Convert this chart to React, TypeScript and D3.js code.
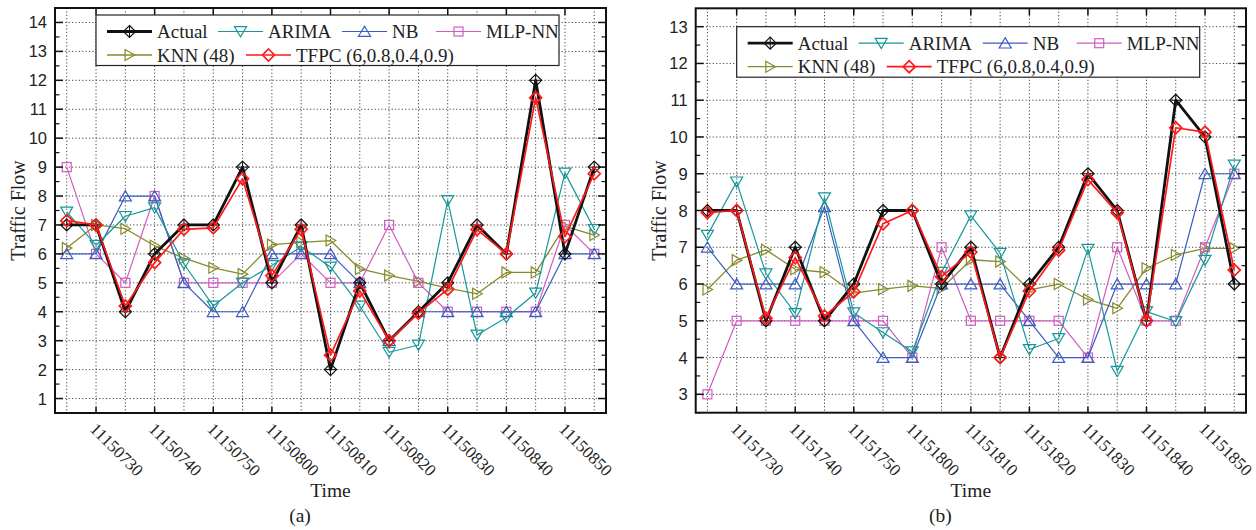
import React from "react";
import * as d3 from "d3";

// ---------- DATA ----------
const timesA = ["11150725","11150730","11150735","11150740","11150745","11150750","11150755","11150800","11150805","11150810","11150815","11150820","11150825","11150830","11150835","11150840","11150845","11150850","11150855"];
const timesB = ["11151725","11151730","11151735","11151740","11151745","11151750","11151755","11151800","11151805","11151810","11151815","11151820","11151825","11151830","11151835","11151840","11151845","11151850","11151855"];

const actualA = [7,7,4,6,7,7,9,5,7,2,5,3,4,5,7,6,12,6,9];
const arimaA = [7.45,6.3,7.3,7.6,5.65,4.2,5.0,5.6,6.25,5.55,4.2,2.6,2.85,7.85,3.2,3.8,4.65,8.8,6.85];
const nbA = [6,6,8,8,5,4,4,6,6,6,5,3,4,4,4,4,4,6,6];
const mlpA = [9,6,5,8,5,5,5,5,6,5,5,7,5,4,4,4,4,7,6];
const knnA = [6.2,7.0,6.87,6.28,5.85,5.52,5.3,6.32,6.4,6.46,5.48,5.25,5.05,4.82,4.62,5.36,5.36,6.95,6.65];
const tfpcA = [7.15,7.0,4.2,5.7,6.85,6.9,8.6,5.25,6.85,2.5,4.72,3.0,3.95,4.78,6.84,6.0,11.4,6.6,8.77];

const actualB = [8,8,5,7,5,6,8,8,6,7,4,6,7,9,8,5,11,10,6];
const arimaB = [7.33,8.78,6.28,5.2,8.35,5.22,4.68,4.16,6.32,7.86,6.84,4.22,4.52,6.95,3.63,5.25,4.98,6.65,9.24];
const nbB = [7,6,6,6,8.1,5,4,4,6,6,6,5,4,4,6,6,6,9,9];
const mlpB = [3,5,5,5,5,5,5,4,7,5,5,5,5,4,7,5,5,7,9];
const knnB = [5.85,6.65,6.93,6.4,6.32,5.75,5.86,5.95,5.88,6.66,6.61,5.84,6.0,5.58,5.34,6.43,6.79,6.97,6.97];
const tfpcB = [7.94,8.0,5.07,6.72,5.13,5.79,7.64,8.0,6.2,6.87,4.0,5.81,6.92,8.84,7.94,5.0,10.25,10.13,6.38];

const yTicksA = [1,2,3,4,5,6,7,8,9,10,11,12,13,14];
const yTicksB = [3,4,5,6,7,8,9,10,11,12,13];

const seriesNames = ["Actual","ARIMA","NB","MLP-NN","KNN (48)","TFPC (6,0.8,0.4,0.9)"];

const SERIF = "'Liberation Serif', 'Times New Roman', Times, serif";
const SANS = "'Liberation Sans', Arial, Helvetica, sans-serif";

// ---------- STYLE ----------
type Marker = "diamondCross" | "down" | "up" | "square" | "right" | "diamond";
const styles: { name: string; color: string; width: number; marker: Marker }[] = [
  { name: seriesNames[0], color: "#111111", width: 2.8, marker: "diamondCross" },
  { name: seriesNames[1], color: "#16979a", width: 1.2, marker: "down" },
  { name: seriesNames[2], color: "#3b5cc0", width: 1.2, marker: "up" },
  { name: seriesNames[3], color: "#d05cc2", width: 1.2, marker: "square" },
  { name: seriesNames[4], color: "#878a2a", width: 1.3, marker: "right" },
  { name: seriesNames[5], color: "#ff1a1a", width: 1.7, marker: "diamond" },
];

function MarkerShape({ type, x, y, color, sw }: { type: Marker; x: number; y: number; color: string; sw: number }) {
  const common = { fill: "none", stroke: color, strokeWidth: sw };
  if (type === "diamondCross") {
    const r = 6;
    return (
      <g>
        <path d={`M${x},${y - r}L${x + r},${y}L${x},${y + r}L${x - r},${y}Z`} {...common} />
        <path d={`M${x},${y - r}V${y + r}M${x - r},${y}H${x + r}`} {...common} strokeWidth={1} />
      </g>
    );
  }
  if (type === "diamond") {
    const r = 6;
    return <path d={`M${x},${y - r}L${x + r},${y}L${x},${y + r}L${x - r},${y}Z`} {...common} />;
  }
  if (type === "down") {
    const r = 6;
    return <path d={`M${x - r},${y - r * 0.8}L${x + r},${y - r * 0.8}L${x},${y + r * 0.9}Z`} {...common} />;
  }
  if (type === "up") {
    const r = 6;
    return <path d={`M${x - r},${y + r * 0.8}L${x + r},${y + r * 0.8}L${x},${y - r * 0.9}Z`} {...common} />;
  }
  if (type === "right") {
    const r = 5.5;
    return <path d={`M${x - r * 0.8},${y - r}L${x - r * 0.8},${y + r}L${x + r * 0.95},${y}Z`} {...common} />;
  }
  const s = 4.5;
  return <rect x={x - s} y={y - s} width={2 * s} height={2 * s} {...common} />;
}

type PanelProps = {
  left: number; right: number; top: number; bottom: number;
  yDomain: [number, number]; yTicks: number[]; times: string[];
  data: number[][]; legendTop: number; caption: string;
};

function Panel({ left, right, top, bottom, yDomain, yTicks, times, data, legendTop, caption }: PanelProps) {
  const n = times.length;
  const x = d3.scaleLinear().domain([-0.4, n - 1 + 0.4]).range([left, right]);
  const y = d3.scaleLinear().domain(yDomain).range([bottom, top]);
  const idx = d3.range(n);
  const minor = yTicks.map((t) => t + 0.5).filter((t) => t < yDomain[1]);
  minor.unshift(yTicks[0] - 0.5);
  const labeled = idx.filter((i) => times[i].endsWith("0"));
  const order = [4, 3, 2, 1, 0, 5];
  const cx = (left + right) / 2;
  const cy = (top + bottom) / 2;

  const legLeft = left + 41;
  const legW = 463;
  const legH = 50.5;
  const rows = [legendTop + 16.5, legendTop + 40];
  const legendItems: { s: number; lx: number; row: number }[] = [
    { s: 0, lx: 11, row: 0 },
    { s: 1, lx: 122, row: 0 },
    { s: 2, lx: 246, row: 0 },
    { s: 3, lx: 340, row: 0 },
    { s: 4, lx: 11, row: 1 },
    { s: 5, lx: 150, row: 1 },
  ];

  return (
    <g>
      {/* grid */}
      {idx.map((i) => (
        <line key={"gv" + i} x1={x(i)} x2={x(i)} y1={top} y2={bottom} stroke="#444" strokeWidth={1} strokeDasharray="1.2,2.2" />
      ))}
      {yTicks.map((t) => (
        <line key={"gh" + t} x1={left} x2={right} y1={y(t)} y2={y(t)} stroke="#444" strokeWidth={1} strokeDasharray="1.2,2.2" />
      ))}
      {/* series */}
      {order.map((si) => {
        const st = styles[si];
        const line = d3.line<number>().x((_, i) => x(i)).y((v) => y(v));
        return (
          <g key={"s" + si}>
            <path d={line(data[si]) || ""} fill="none" stroke={st.color} strokeWidth={st.width} strokeLinejoin="round" />
            {data[si].map((v, i) => (
              <MarkerShape key={i} type={st.marker} x={x(i)} y={y(v)} color={st.color} sw={si === 0 ? 1.2 : si === 5 ? 1.7 : 1.2} />
            ))}
          </g>
        );
      })}
      {/* frame */}
      <rect x={left} y={top} width={right - left} height={bottom - top} fill="none" stroke="#111" strokeWidth={2} />
      {/* y ticks */}
      {yTicks.map((t) => (
        <g key={"yt" + t}>
          <line x1={left} x2={left + 8} y1={y(t)} y2={y(t)} stroke="#111" strokeWidth={1.5} />
          <line x1={right} x2={right - 8} y1={y(t)} y2={y(t)} stroke="#111" strokeWidth={1.5} />
          <text x={left - 8} y={y(t)} textAnchor="end" dominantBaseline="central" fontFamily={SANS} fontSize={16.5} fill="#222">{t}</text>
        </g>
      ))}
      {minor.map((t) => (
        <g key={"ym" + t}>
          <line x1={left} x2={left + 4.5} y1={y(t)} y2={y(t)} stroke="#111" strokeWidth={1.2} />
          <line x1={right} x2={right - 4.5} y1={y(t)} y2={y(t)} stroke="#111" strokeWidth={1.2} />
        </g>
      ))}
      {/* x ticks */}
      {labeled.map((i) => (
        <g key={"xt" + i}>
          <line x1={x(i)} x2={x(i)} y1={bottom} y2={bottom - 6} stroke="#111" strokeWidth={1.5} />
          <line x1={x(i)} x2={x(i)} y1={top} y2={top + 7} stroke="#111" strokeWidth={1.5} />
          <text
            transform={`translate(${x(i) - 7},${bottom + 17}) rotate(45)`}
            fontFamily={SERIF} fontSize={17} fill="#222"
          >{times[i]}</text>
        </g>
      ))}
      {/* axis titles */}
      <text x={cx} y={497} textAnchor="middle" fontFamily={SERIF} fontSize={19.5} fill="#222">Time</text>
      <text x={cx - 30.5} y={522} textAnchor="middle" fontFamily={SERIF} fontSize={19.5} fill="#222">{caption}</text>
      <text transform={`translate(${left - 37},${cy}) rotate(-90)`} textAnchor="middle" dominantBaseline="central" fontFamily={SERIF} fontSize={20} fill="#222">Traffic Flow</text>
      {/* legend */}
      <rect x={legLeft} y={legendTop} width={legW} height={legH} fill="#fff" stroke="#222" strokeWidth={1.2} />
      {legendItems.map((it) => {
        const st = styles[it.s];
        const ly = rows[it.row];
        const x0 = legLeft + it.lx;
        const x1 = x0 + 45;
        return (
          <g key={"lg" + it.s}>
            <line x1={x0} x2={x1} y1={ly} y2={ly} stroke={st.color} strokeWidth={st.width} />
            <MarkerShape type={st.marker} x={(x0 + x1) / 2} y={ly} color={st.color} sw={it.s === 0 ? 1.2 : it.s === 5 ? 1.7 : 1.2} />
            <text x={x1 + 5} y={ly} dominantBaseline="central" fontFamily={SERIF} fontSize={19} fill="#222">{st.name}</text>
          </g>
        );
      })}
    </g>
  );
}

export default function App() {
  return (
    <svg width={1256} height={530} style={{ position: "absolute", left: 0, top: 0, background: "#fff" }}>
      <rect x={0} y={0} width={1256} height={530} fill="#fff" />
      <Panel left={55} right={606} top={8} bottom={413} yDomain={[0.5, 14.5]} yTicks={yTicksA} times={timesA}
        data={[actualA, arimaA, nbA, mlpA, knnA, tfpcA]} legendTop={15} caption="(a)" />
      <Panel left={695.7} right={1246} top={8.3} bottom={412.7} yDomain={[2.5, 13.5]} yTicks={yTicksB} times={timesB}
        data={[actualB, arimaB, nbB, mlpB, knnB, tfpcB]} legendTop={26.7} caption="(b)" />
    </svg>
  );
}
